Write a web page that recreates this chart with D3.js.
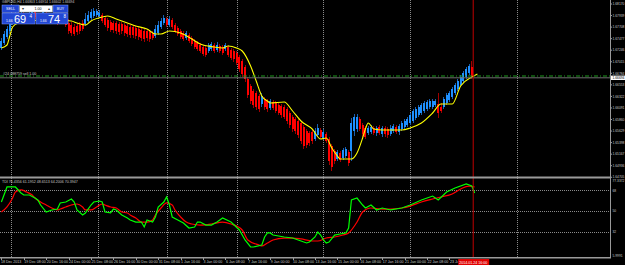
<!DOCTYPE html>
<html>
<head>
<meta charset="utf-8">
<script src="https://cdn.jsdelivr.net/npm/d3@7"></script>
<style>
    html, body { margin: 0; padding: 0; background: #000; }
    svg { display: block; }
    text { font-family: "Liberation Sans", Arial, sans-serif; }
</style>
</head>
<body>
<svg id="chart" width="625" height="265"></svg>
<script>
// ---- data (prices in pips, 1.66694 -> 16669.4) ----

// heiken ashi bars: [open, high, low, close]
const candles = [
    [16729,16749,16725,16743],[16739,16763,16735,16757],[16751,16773,16747,16767],[16763,16787,16757,16779],
    [16779,16797,16775,16791],[16787,16805,16783,16799],[16795,16801,16783,16787],[16787,16803,16781,16797],
    [16797,16801,16779,16785],[16789,16795,16777,16781],[16783,16801,16779,16795],[16793,16809,16789,16803],
    [16801,16807,16787,16791],[16793,16797,16779,16785],[16785,16799,16781,16795],[16793,16807,16789,16801],
    [16799,16803,16785,16789],[16791,16795,16779,16783],[16783,16799,16779,16793],[16793,16797,16781,16785],
    [16787,16791,16775,16779],[16781,16797,16777,16791],[16789,16793,16777,16781],[16783,16787,16771,16775],
    [16779,16787,16757,16763],[16775,16781,16753,16759],[16771,16777,16753,16757],[16773,16779,16755,16761],
    [16775,16781,16757,16763],[16779,16785,16763,16767],[16777,16799,16773,16787],[16783,16803,16779,16795],
    [16789,16807,16785,16801],[16793,16809,16789,16803],[16795,16807,16791,16803],[16793,16805,16789,16799],
    [16795,16799,16779,16783],[16789,16793,16771,16775],[16785,16789,16763,16769],[16781,16785,16761,16765],
    [16779,16783,16759,16765],[16779,16783,16757,16763],[16777,16781,16755,16761],[16777,16781,16757,16763],
    [16775,16779,16753,16759],[16773,16777,16751,16757],[16771,16775,16749,16755],[16771,16775,16749,16755],
    [16769,16773,16747,16753],[16767,16771,16745,16751],[16765,16769,16743,16749],[16763,16767,16741,16747],
    [16763,16767,16743,16749],[16761,16765,16741,16747],[16759,16763,16745,16749],[16753,16775,16749,16767],
    [16759,16783,16755,16775],[16771,16789,16767,16783],[16779,16795,16775,16789],[16787,16791,16771,16775],
    [16775,16793,16771,16787],[16785,16789,16767,16771],[16775,16779,16759,16763],[16769,16773,16753,16757],
    [16763,16767,16747,16751],[16759,16763,16743,16747],[16749,16763,16745,16759],[16755,16759,16739,16743],
    [16749,16753,16733,16737],[16743,16747,16727,16731],[16739,16743,16723,16727],[16735,16739,16719,16723],
    [16731,16735,16713,16717],[16729,16733,16711,16715],[16723,16739,16719,16735],[16727,16741,16723,16737],
    [16735,16739,16719,16723],[16725,16741,16721,16735],[16733,16737,16719,16723],[16731,16735,16715,16719],
    [16727,16739,16723,16735],[16731,16735,16711,16715],[16725,16729,16705,16709],[16723,16727,16701,16707],
    [16719,16723,16695,16699],[16711,16715,16681,16687],[16703,16707,16671,16677],[16691,16695,16661,16667],
    [16667,16671,16629,16635],[16653,16657,16617,16623],[16643,16647,16609,16615],[16639,16643,16605,16611],
    [16633,16637,16601,16607],[16617,16639,16611,16633],[16627,16631,16605,16611],[16623,16627,16601,16607],
    [16609,16627,16605,16623],[16621,16625,16605,16609],[16619,16623,16599,16603],[16615,16619,16595,16599],
    [16613,16617,16589,16595],[16611,16615,16587,16591],[16607,16611,16577,16583],[16599,16603,16569,16575],
    [16591,16595,16561,16567],[16587,16591,16557,16563],[16583,16587,16549,16555],[16579,16583,16537,16543],
    [16571,16575,16527,16533],[16563,16567,16529,16535],[16559,16563,16533,16539],[16561,16565,16537,16543],
    [16547,16569,16543,16563],[16555,16577,16551,16569],[16565,16569,16547,16551],[16549,16567,16545,16561],
    [16557,16561,16539,16543],[16547,16551,16495,16503],[16533,16537,16483,16491],[16523,16527,16497,16503],
    [16507,16525,16503,16521],[16519,16523,16501,16505],[16509,16529,16505,16525],[16513,16531,16509,16527],
    [16521,16525,16493,16499],[16523,16589,16503,16579],[16563,16597,16553,16591],[16567,16597,16561,16591],
    [16587,16591,16563,16567],[16575,16579,16551,16557],[16569,16573,16547,16551],[16559,16573,16555,16569],
    [16561,16575,16557,16571],[16569,16573,16555,16559],[16559,16573,16553,16569],[16571,16575,16555,16559],
    [16557,16573,16551,16569],[16569,16573,16551,16557],[16567,16571,16549,16555],[16557,16575,16553,16569],
    [16563,16577,16559,16573],[16571,16575,16557,16561],[16561,16577,16555,16573],[16567,16583,16563,16579],
    [16571,16587,16567,16583],[16575,16591,16571,16587],[16579,16599,16575,16595],[16583,16607,16579,16603],
    [16589,16611,16585,16607],[16595,16615,16591,16611],[16599,16619,16595,16615],[16603,16623,16599,16619],
    [16607,16625,16603,16621],[16611,16627,16607,16623],[16611,16627,16607,16623],[16615,16627,16611,16623],
    [16617,16639,16589,16599],[16611,16619,16599,16603],[16611,16631,16607,16627],[16619,16639,16615,16635],
    [16625,16643,16621,16639],[16631,16651,16627,16647],[16639,16659,16635,16655],[16647,16667,16643,16663],
    [16655,16675,16651,16671],[16663,16683,16659,16679],[16671,16691,16667,16687],[16679,16697,16675,16693],
    [16691,16703,16667,16671]
];

// moving average: [bar, price]
const maLine = [
    [0,16729],[2,16735],[3,16753],[4,16771],[6,16779],[10,16783],[15,16785],[20,16785],[25,16783],
    [27,16779],[30,16775],[32,16783],[36,16791],[38,16793],[41,16787],[45,16779],[48,16773],[52,16767],
    [55,16757],[57,16757],[60,16763],[64,16759],[68,16747],[71,16737],[76,16731],[79,16729],[81,16733],
    [84,16729],[86,16723],[89,16693],[91,16663],[93,16633],[95,16623],[96,16619],[101,16621],[104,16603],
    [107,16583],[111,16567],[114,16547],[116,16549],[118,16529],[120,16513],[121,16507],[125,16507],
    [127,16519],[129,16549],[130,16567],[131,16579],[133,16567],[136,16565],[143,16565],[146,16569],
    [150,16579],[154,16599],[157,16617],[161,16617],[164,16653],[168,16671],[170,16677]
];

// TDI price line (green) and trade signal line (red): [bar, value]
const tdiGreen = [
    [0,57.8],[2,70.9],[5,70.9],[7,65.7],[8,63.9],[10,63.9],[12,61.3],[13,59.6],[14,55.2],[16,49.1],
    [18,50.9],[20,51.7],[21,57],[23,57.8],[25,60.4],[26,57.8],[27,50.9],[29,46.5],[30,48.3],[32,55.2],
    [33,57.8],[35,58.7],[36,57.8],[37,49.1],[39,48.3],[40,51.7],[41,50.9],[43,46.5],[45,43.9],[46,42.2],
    [48,40.4],[50,40.4],[51,36.1],[52,42.2],[54,40.4],[55,44.8],[56,53.5],[58,57.8],[59,62.2],[60,55.2],
    [61,44.8],[63,42.2],[65,39.6],[67,35.2],[69,36.1],[70,40.4],[71,40.4],[73,37.8],[75,37.8],[77,40.4],
    [79,43.9],[82,40.4],[85,33.5],[87,24.8],[89,18.7],[90,18.7],[93,20.4],[94,27.4],[95,30.9],[96,30.9],
    [97,29.1],[101,27.4],[104,26.5],[106,24.8],[109,22.2],[110,23],[112,27.4],[113,31.7],[114,29.1],
    [115,24.8],[116,22.2],[117,23],[119,29.1],[121,30],[123,30.9],[124,35.2],[125,59.6],[127,61.3],
    [129,55.2],[130,52.6],[132,55.2],[134,50.9],[136,52.6],[139,50.9],[143,52.6],[146,55.2],[150,59.6],
    [154,63],[156,59.6],[159,66.5],[162,70],[166,73.5],[168,71.7],[169,65.7]
];
const tdiRed = [
    [0,49.1],[2,53.5],[4,61.3],[5,66.5],[7,68.3],[9,66.5],[11,63.9],[12,61.3],[14,57.8],[16,55.2],
    [18,52.6],[20,50.9],[21,51.7],[23,53.5],[25,55.2],[27,56.1],[29,53.5],[30,50.9],[32,50.9],[34,53.5],
    [36,56.1],[37,55.2],[39,53.5],[41,52.6],[43,49.1],[45,48.3],[46,46.5],[48,43.9],[50,40.4],[52,40.4],
    [54,42.2],[55,46.5],[57,52.6],[59,57],[61,55.2],[62,50.9],[64,44.8],[66,40.4],[68,38.7],[71,37.8],
    [75,38.7],[79,40.4],[82,38.7],[86,33.5],[88,24.8],[92,20.4],[93,19.6],[95,22.2],[97,24.8],[101,26.5],
    [104,26.5],[107,25.7],[111,23.9],[113,23.9],[116,26.5],[119,27.4],[122,29.1],[124,30.9],[127,40.4],
    [129,49.1],[132,52.6],[136,51.7],[139,51.7],[143,52.6],[146,54.3],[150,57.8],[154,60.4],[157,62.2],
    [161,64.8],[164,69.1],[167,71.7],[169,70.9]
];
const tdiLevels = [68, 50, 32];

// axis labels
const priceTicks = [1.68170, 1.67939, 1.67708, 1.67477, 1.67246, 1.67015, 1.66784, 1.66553,
    1.66322, 1.66091, 1.65860, 1.65629, 1.65398, 1.65167, 1.64936, 1.64705];
const timeLabels = ["18 Dec 2013", "19 Dec 08:00", "20 Dec 16:00", "24 Dec 00:00", "25 Dec 08:00",
    "26 Dec 16:00", "30 Dec 00:00", "31 Dec 08:00", "1 Jan 16:00", "3 Jan 00:00", "6 Jan 08:00",
    "7 Jan 16:00", "9 Jan 00:00", "10 Jan 08:00", "13 Jan 16:00", "15 Jan 00:00", "16 Jan 08:00",
    "17 Jan 16:00", "21 Jan 00:00", "22 Jan 08:00", "23 Jan 16:00"];
const labelStep = 8; // bars between time labels
const separatorBars = [3.5, 34.5, 59, 84, 115, 146, 184];

const bidPrice = 16669.4;
const orderPrice = 16673;
const vlineBar = 168.5;

// ---- layout ----
const W = 625, H = 265;
const axisX = 610;
const mainBottom = 176;
const indTop = 179, indBottom = 257;
const txt = "#c8c8c8";
const axisFont = 3.3;

const svg = d3.select("#chart");
svg.append("rect").attr("width", W).attr("height", H).attr("fill", "#000");

// scales
const x = d3.scaleLinear().domain([-0.5, 217.35]).range([0, axisX]);
const yPrice = d3.scaleLinear().domain([16825, 16473]).range([0, mainBottom]);
const yInd = d3.scaleLinear().domain([68, 32]).range([190.3, 231.7]);

const vlX = x(vlineBar);
const defs = svg.append("defs");
defs.append("clipPath").attr("id", "clipMain")
    .append("rect").attr("x", 0).attr("y", 0).attr("width", axisX).attr("height", mainBottom + 1);
defs.append("clipPath").attr("id", "clipInd")
    .append("rect").attr("x", 0).attr("y", indTop).attr("width", axisX).attr("height", indBottom - indTop);
// time labels run under the vertical line's label box
defs.append("clipPath").attr("id", "clipTime")
    .append("rect").attr("x", 0).attr("y", indBottom).attr("width", vlX - 15.5).attr("height", H - indBottom);

// vertical grid (dotted)
svg.append("g").selectAll("line")
    .data(separatorBars)
    .join("line")
    .attr("x1", d => Math.round(x(d)) + 0.5).attr("x2", d => Math.round(x(d)) + 0.5)
    .attr("y1", 0).attr("y2", indBottom)
    .attr("stroke", "#8a8a8a").attr("stroke-dasharray", "1,1");

// indicator levels
svg.append("g").selectAll("line")
    .data(tdiLevels)
    .join("line")
    .attr("x1", 0).attr("x2", axisX)
    .attr("y1", d => Math.round(yInd(d)) + 0.5).attr("y2", d => Math.round(yInd(d)) + 0.5)
    .attr("stroke", "#8a8a8a").attr("stroke-dasharray", "1,1");

// candles
const gMain = svg.append("g").attr("clip-path", "url(#clipMain)");
const up = d => d[3] >= d[0];
gMain.append("g").attr("shape-rendering", "crispEdges")
    .selectAll("line")
    .data(candles)
    .join("line")
    .attr("x1", (d, i) => x(i)).attr("x2", (d, i) => x(i))
    .attr("y1", d => yPrice(d[1])).attr("y2", d => yPrice(d[2]))
    .attr("stroke", d => up(d) ? "#1a5fae" : "#a00000");
gMain.append("g").attr("shape-rendering", "crispEdges")
    .selectAll("rect")
    .data(candles)
    .join("rect")
    .attr("x", (d, i) => x(i) - 1)
    .attr("width", 2)
    .attr("y", d => yPrice(Math.max(d[0], d[3])))
    .attr("height", d => Math.max(1, Math.abs(yPrice(d[0]) - yPrice(d[3]))))
    .attr("fill", d => up(d) ? "#1e90ff" : "#ff0000");

// moving average
gMain.append("path")
    .datum(maLine)
    .attr("d", d3.line().x(d => x(d[0])).y(d => yPrice(d[1])).curve(d3.curveMonotoneX))
    .attr("fill", "none").attr("stroke", "#ffff00").attr("stroke-width", 1.1);

// order line + bid line
gMain.append("line")
    .attr("x1", 0).attr("x2", axisX)
    .attr("y1", yPrice(orderPrice)).attr("y2", yPrice(orderPrice))
    .attr("stroke", "#1f9a1f").attr("stroke-dasharray", "4,2,1,2");
gMain.append("line")
    .attr("x1", 0).attr("x2", axisX)
    .attr("y1", yPrice(bidPrice)).attr("y2", yPrice(bidPrice))
    .attr("stroke", "#6e6e6e");
svg.append("text")
    .attr("x", 3).attr("y", yPrice(orderPrice) - 1)
    .attr("font-size", 3.6).attr("fill", txt)
    .text("#24 08ff759 sell 1.00");

// TDI lines
const gInd = svg.append("g").attr("clip-path", "url(#clipInd)");
gInd.append("path")
    .datum(tdiRed)
    .attr("d", d3.line().x(d => x(d[0])).y(d => yInd(d[1])).curve(d3.curveMonotoneX))
    .attr("fill", "none").attr("stroke", "#ff0000").attr("stroke-width", 1.2);
gInd.append("path")
    .datum(tdiGreen)
    .attr("d", d3.line().x(d => x(d[0])).y(d => yInd(d[1])))
    .attr("fill", "none").attr("stroke", "#00ff00").attr("stroke-width", 1.2);
svg.append("text")
    .attr("x", 2).attr("y", indTop + 4)
    .attr("font-size", 3.6).attr("fill", txt)
    .text("TDI 76.4356 61.1952 48.6513 64.2006 70.3947");

// vertical line object
svg.append("line")
    .attr("x1", vlX).attr("x2", vlX)
    .attr("y1", 0).attr("y2", indBottom)
    .attr("stroke", "#c00000");

// frame: separator, bottom border, right axis
svg.append("rect").attr("x", 0).attr("y", mainBottom + 0.5).attr("width", axisX + 1).attr("height", 2).attr("fill", "#9a9a9a");
svg.append("rect").attr("x", 0).attr("y", indBottom).attr("width", axisX + 1).attr("height", 1.5).attr("fill", "#9a9a9a");
svg.append("line").attr("x1", axisX + 0.5).attr("x2", axisX + 0.5).attr("y1", 0).attr("y2", indBottom + 1)
    .attr("stroke", "#9a9a9a");

// price axis
const gP = svg.append("g");
gP.selectAll("line")
    .data(priceTicks)
    .join("line")
    .attr("x1", axisX).attr("x2", axisX + 2)
    .attr("y1", d => yPrice(d * 10000)).attr("y2", d => yPrice(d * 10000))
    .attr("stroke", "#9a9a9a");
gP.selectAll("text")
    .data(priceTicks)
    .join("text")
    .attr("x", axisX + 2.5).attr("y", d => yPrice(d * 10000) + 1.2)
    .attr("font-size", axisFont).attr("fill", txt)
    .text(d => d.toFixed(5));

// bid label
const bidY = yPrice(bidPrice);
svg.append("rect").attr("x", axisX + 1).attr("y", bidY - 2.2).attr("width", 14).attr("height", 4.4).attr("fill", "#fff");
svg.append("text").attr("x", axisX + 2.5).attr("y", bidY + 1.2)
    .attr("font-size", axisFont).attr("fill", "#000").text((bidPrice / 10000).toFixed(5));

// indicator axis
const indLabels = [[77.3372, "77.3372"], [68, "68"], [50, "50"], [32, "32"]];
svg.append("g").selectAll("text")
    .data(indLabels)
    .join("text")
    .attr("x", axisX + 2.5).attr("y", d => Math.max(indTop + 3, yInd(d[0]) + 1.2))
    .attr("font-size", axisFont).attr("fill", txt)
    .text(d => d[1]);
svg.append("text").attr("x", axisX + 2.5).attr("y", indBottom - 0.5)
    .attr("font-size", axisFont).attr("fill", txt).text("5.9991");

// time axis
const gT = svg.append("g");
gT.selectAll("line")
    .data(timeLabels)
    .join("line")
    .attr("x1", (d, i) => Math.round(x(i * labelStep)) + 0.5).attr("x2", (d, i) => Math.round(x(i * labelStep)) + 0.5)
    .attr("y1", indBottom + 1).attr("y2", indBottom + 3)
    .attr("stroke", "#9a9a9a");
gT.append("g").attr("clip-path", "url(#clipTime)")
    .selectAll("text")
    .data(timeLabels)
    .join("text")
    .attr("x", (d, i) => x(i * labelStep) + (i == 0 ? -0.5 : 0.5)).attr("y", 263)
    .attr("font-size", 3.6).attr("fill", txt)
    .text(d => d);

// vertical line time label
svg.append("rect").attr("x", vlX - 15).attr("y", 259).attr("width", 31).attr("height", 6).attr("fill", "#e00000");
svg.append("text").attr("x", vlX).attr("y", 263.5).attr("text-anchor", "middle")
    .attr("font-size", 3.6).attr("fill", "#fff").text("2014.01.24 16:00");

// chart title
svg.append("text").attr("x", 2).attr("y", 3)
    .attr("font-size", 3.4).attr("fill", txt)
    .text("GBPUSD,H4  1.66803 1.66914 1.66602 1.66694");

// one click trading panel
const tp = svg.append("g").attr("transform", "translate(1,4)");
const btnFill = "#2247d4", btnStroke = "#7f9bff";
tp.append("rect").attr("x", 1).attr("y", 1).attr("width", 17).attr("height", 7.5).attr("fill", btnFill).attr("stroke", btnStroke).attr("stroke-width", 0.5);
tp.append("rect").attr("x", 52).attr("y", 1).attr("width", 15).attr("height", 7.5).attr("fill", btnFill).attr("stroke", btnStroke).attr("stroke-width", 0.5);
tp.append("rect").attr("x", 18.5).attr("y", 1.5).attr("width", 33).attr("height", 6.5).attr("fill", "#fff").attr("stroke", "#9aa").attr("stroke-width", 0.5);
tp.append("text").attr("x", 9.5).attr("y", 6).attr("text-anchor", "middle").attr("font-size", 3.6).attr("fill", "#fff").text("SELL");
tp.append("text").attr("x", 59.5).attr("y", 6).attr("text-anchor", "middle").attr("font-size", 3.6).attr("fill", "#fff").text("BUY");
tp.append("text").attr("x", 21).attr("y", 6).attr("font-size", 3.6).attr("fill", "#333").text("\u25BE");
tp.append("text").attr("x", 37).attr("y", 6).attr("text-anchor", "middle").attr("font-size", 3.6).attr("fill", "#000").text("1.00");
tp.append("text").attr("x", 47).attr("y", 6).attr("font-size", 3.6).attr("fill", "#333").text("\u25B4");
tp.append("rect").attr("x", 1).attr("y", 9).attr("width", 33).attr("height", 11).attr("fill", btnFill).attr("stroke", btnStroke).attr("stroke-width", 0.5);
tp.append("rect").attr("x", 35).attr("y", 9).attr("width", 32).attr("height", 11).attr("fill", btnFill).attr("stroke", btnStroke).attr("stroke-width", 0.5);
const quotes = [{x: 1, big: "69", sup: "4"}, {x: 35, big: "74", sup: "8"}];
quotes.forEach(q => {
    tp.append("text").attr("x", q.x + 4).attr("y", 18).attr("font-size", 3.4).attr("fill", "#fff").text("1.66");
    tp.append("text").attr("x", q.x + 12).attr("y", 19).attr("font-size", 11).attr("fill", "#fff").text(q.big);
    tp.append("text").attr("x", q.x + 27.5).attr("y", 13.5).attr("font-size", 4.5).attr("fill", "#fff").text(q.sup);
});
</script>
</body>
</html>
